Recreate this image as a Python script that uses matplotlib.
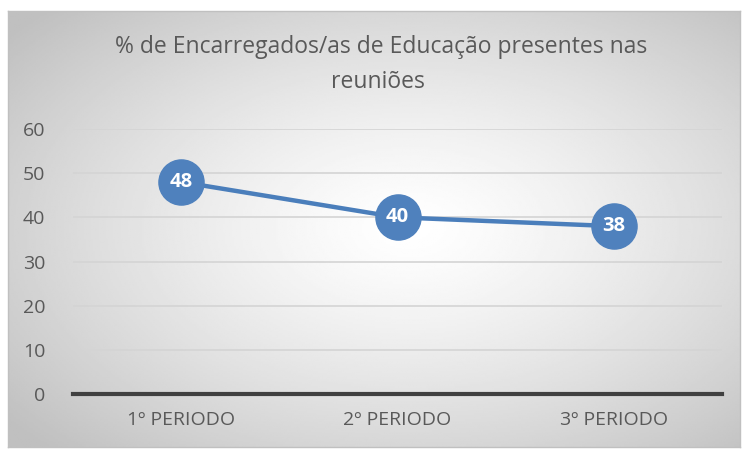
import numpy as np
import matplotlib.pyplot as plt

# chart data
periods = ['1º PERIODO', '2º PERIODO', '3º PERIODO']
percent = [48, 40, 38]
y_ticks = [0, 10, 20, 30, 40, 50, 60]

plt.rcParams['font.family'] = ['Open Sans', 'DejaVu Sans']

W, H = 747, 451
fig = plt.figure(figsize=(W / 100, H / 100), dpi=100)
fig.patch.set_facecolor('white')

# chart area box with radial gradient background
x0, y0, x1, y1 = 8, 11, 740, 447
bg = fig.add_axes([x0 / W, 1 - y1 / H, (x1 - x0) / W, (y1 - y0) / H])
gx, gy = np.meshgrid(np.linspace(0, 1, 400), np.linspace(0, 1, 240))
r = np.sqrt(((gx - 0.55) / 0.75) ** 2 + ((gy - 0.5) / 0.75) ** 2)
shade = 1 - 0.25 * np.clip(r / 0.95, 0, 1) ** 1.3
bg.imshow(shade, cmap='gray', vmin=0, vmax=1, aspect='auto', extent=[0, 1, 0, 1])
bg.set_xticks([])
bg.set_yticks([])
for s in bg.spines.values():
    s.set_color('#c0c0c0')
    s.set_linewidth(1)

# plot area
px0, px1 = 73, 722
py_top, py_bot = 129, 394
ax = fig.add_axes([px0 / W, 1 - py_bot / H, (px1 - px0) / W, (py_bot - py_top) / H])
ax.patch.set_alpha(0)
ax.set_xlim(-0.5, 2.5)
ax.set_ylim(0, 60)
ax.set_yticks(y_ticks)
ax.set_xticks(range(len(periods)))
ax.set_xticklabels(periods)
ax.tick_params(length=0, labelsize=14, colors='#595959')
ax.tick_params(axis='y', pad=20)
ax.tick_params(axis='x', pad=12)
for s in ax.spines.values():
    s.set_visible(False)
ax.grid(axis='y', color='#d4d4d4', linewidth=1.2)
ax.set_axisbelow(True)
ax.axhline(0, color='#404040', linewidth=3, clip_on=False)

x = np.arange(len(percent))
ax.plot(x, percent, color='#4a7ebb', linewidth=3.2, marker='o', markersize=32.5,
        markerfacecolor='#4f81bd', markeredgecolor='#4f81bd', clip_on=False, zorder=3)
for xi, v in zip(x, percent):
    ax.text(xi, v, str(v), ha='center', va='center', color='white',
            fontsize=14.5, fontweight='bold', zorder=4)

fig.text(381 / W, 1 - 47 / H, '% de Encarregados/as de Educação presentes nas',
         ha='center', va='center', fontsize=16.5, color='#595959')
fig.text(378 / W, 1 - 82 / H, 'reuniões',
         ha='center', va='center', fontsize=16.5, color='#595959')

fig.savefig('out.png', dpi=100)
